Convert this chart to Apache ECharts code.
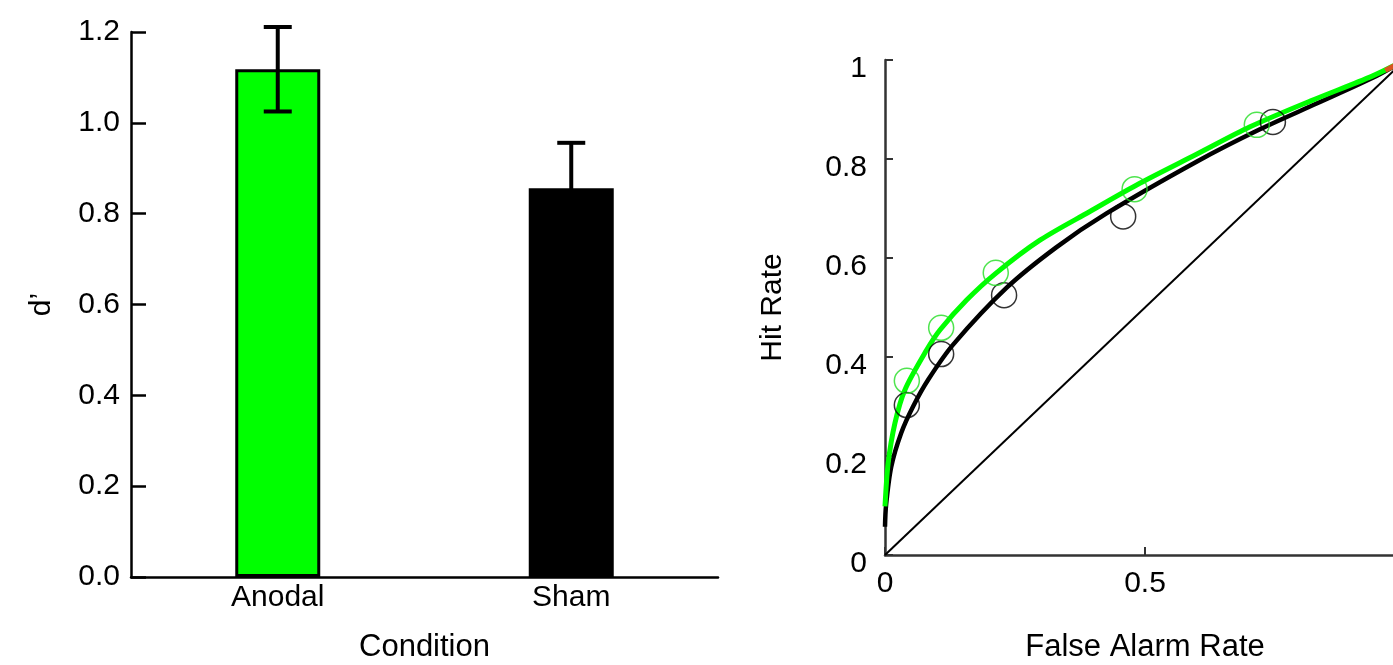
<!DOCTYPE html>
<html>
<head>
<meta charset="utf-8">
<script src="https://cdn.jsdelivr.net/npm/echarts@6/dist/echarts.min.js"></script>
<style>
html, body { margin: 0; padding: 0; background: #fff; }
#chart { width: 1393px; height: 665px; }
</style>
</head>
<body>
<div id="chart"></div>
<script>
// d' per condition
const conditions = ['Anodal', 'Sham']
const dprimeMean = [1.118, 0.856]
const dprimeErr = [0.093, 0.1]

// ROC: observed points
const anodalFA = [0.042, 0.108, 0.213, 0.480, 0.715]
const anodalHR = [0.352, 0.459, 0.570, 0.739, 0.869]
const shamFA = [0.042, 0.108, 0.229, 0.458, 0.746]
const shamHR = [0.303, 0.406, 0.525, 0.684, 0.875]

// ROC: fitted curves
const anodalFitFA = [0, 0.006, 0.019, 0.038, 0.080, 0.106, 0.157, 0.213, 0.298, 0.394, 0.490, 0.600, 0.702, 0.820, 0.938, 1]
const anodalFitHR = [0.098, 0.185, 0.266, 0.333, 0.414, 0.455, 0.515, 0.569, 0.636, 0.694, 0.751, 0.810, 0.865, 0.918, 0.968, 1]
const shamFitFA = [0, 0.002, 0.012, 0.031, 0.054, 0.083, 0.131, 0.234, 0.330, 0.426, 0.600, 0.721, 0.830, 0.938, 1]
const shamFitHR = [0.057, 0.100, 0.178, 0.246, 0.300, 0.354, 0.425, 0.540, 0.622, 0.690, 0.795, 0.860, 0.912, 0.964, 1]
const chanceFA = [0, 1]
const chanceHR = [0, 1]
const redFA = [0.962, 1]
const redHR = [0.979, 1]

const pairs = (xs, ys) => xs.map((x, i) => [x, ys[i]])
const font = 'Liberation Sans, Arial, sans-serif'

const chart = echarts.init(document.getElementById('chart'))

const option = {
  animation: false,
  backgroundColor: '#fff',
  textStyle: { fontFamily: font, color: '#000' },
  grid: [
    { left: 131, top: 32, width: 587, height: 545, outerBoundsMode: 'none' },
    { left: 885, top: 60, width: 520, height: 495, outerBoundsMode: 'none' }
  ],
  xAxis: [
    {
      gridIndex: 0,
      type: 'category',
      data: conditions,
      name: 'Condition',
      nameLocation: 'middle',
      nameGap: 55,
      nameTextStyle: { fontSize: 31, color: '#000', fontFamily: font },
      axisLine: { lineStyle: { color: '#000', width: 2.5 } },
      axisTick: { inside: true, length: 12, lineStyle: { color: '#000', width: 2.5 } },
      axisLabel: { fontSize: 30, color: '#000', margin: 6, fontFamily: font },
      splitLine: { show: false }
    },
    {
      gridIndex: 1,
      type: 'value',
      min: 0,
      max: 1,
      interval: 0.5,
      name: 'False Alarm Rate',
      nameLocation: 'middle',
      nameGap: 77,
      nameTextStyle: { fontSize: 31, color: '#000', fontFamily: font },
      axisLine: { lineStyle: { color: '#333', width: 2.5 } },
      axisTick: { inside: true, length: 8, lineStyle: { color: '#333', width: 2 } },
      axisLabel: { fontSize: 30, color: '#000', margin: 14, fontFamily: font },
      splitLine: { show: false }
    }
  ],
  yAxis: [
    {
      gridIndex: 0,
      type: 'value',
      min: 0,
      max: 1.2,
      interval: 0.2,
      name: 'd\u2019',
      nameLocation: 'middle',
      nameGap: 74,
      nameTextStyle: { fontSize: 30, color: '#000', fontFamily: font },
      axisLine: { show: true, lineStyle: { color: '#000', width: 2.5 } },
      axisTick: { show: true, inside: true, length: 15, lineStyle: { color: '#000', width: 2.5 } },
      axisLabel: { fontSize: 30, color: '#000', margin: 11, fontFamily: font, formatter: v => v.toFixed(1) },
      splitLine: { show: false }
    },
    {
      gridIndex: 1,
      type: 'value',
      min: 0,
      max: 1,
      interval: 0.2,
      name: 'Hit Rate',
      nameLocation: 'middle',
      nameGap: 97,
      nameTextStyle: { fontSize: 30, color: '#000', fontFamily: font },
      axisLine: { show: true, lineStyle: { color: '#333', width: 2.5 } },
      axisTick: { show: true, inside: true, length: 8, lineStyle: { color: '#333', width: 2 } },
      axisLabel: { fontSize: 30, color: '#000', margin: 18, verticalAlign: 'top', lineHeight: 18, fontFamily: font },
      splitLine: { show: false }
    }
  ],
  series: [
    {
      type: 'bar',
      xAxisIndex: 0,
      yAxisIndex: 0,
      barWidth: 85,
      data: dprimeMean.map((v, i) => ({
        value: v,
        itemStyle: i === 0
          ? { color: '#00ff00', borderColor: '#000', borderWidth: 3 }
          : { color: '#000', borderColor: '#000', borderWidth: 0 }
      }))
    },
    {
      type: 'custom',
      xAxisIndex: 0,
      yAxisIndex: 0,
      data: dprimeMean.map((v, i) => [i, v - dprimeErr[i], v + dprimeErr[i]]),
      renderItem(params, api) {
        const lo = api.coord([api.value(0), api.value(1)])
        const hi = api.coord([api.value(0), api.value(2)])
        const w = 14
        const style = { stroke: '#000', lineWidth: 4 }
        return {
          type: 'group',
          children: [
            { type: 'line', shape: { x1: hi[0], y1: lo[1], x2: hi[0], y2: hi[1] }, style },
            { type: 'line', shape: { x1: hi[0] - w, y1: hi[1], x2: hi[0] + w, y2: hi[1] }, style },
            { type: 'line', shape: { x1: lo[0] - w, y1: lo[1], x2: lo[0] + w, y2: lo[1] }, style }
          ]
        }
      },
      z: 5
    },
    {
      type: 'line',
      xAxisIndex: 1,
      yAxisIndex: 1,
      data: pairs(chanceFA, chanceHR),
      symbol: 'none',
      lineStyle: { color: '#000', width: 2 }
    },
    {
      type: 'line',
      xAxisIndex: 1,
      yAxisIndex: 1,
      data: pairs(shamFitFA, shamFitHR),
      symbol: 'none',
      smooth: 0.3,
      lineStyle: { color: '#000', width: 4.5 }
    },
    {
      type: 'line',
      xAxisIndex: 1,
      yAxisIndex: 1,
      data: pairs(anodalFitFA, anodalFitHR),
      symbol: 'none',
      smooth: 0.3,
      lineStyle: { color: '#00ff00', width: 5 }
    },
    {
      type: 'line',
      xAxisIndex: 1,
      yAxisIndex: 1,
      data: pairs(redFA, redHR),
      symbol: 'none',
      lineStyle: { color: '#d9541e', width: 5 }
    },
    {
      type: 'scatter',
      xAxisIndex: 1,
      yAxisIndex: 1,
      data: pairs(shamFA, shamHR),
      symbol: 'circle',
      symbolSize: 25,
      itemStyle: { color: 'rgba(0,0,0,0)', borderColor: '#000', borderWidth: 1.5 },
      z: 6
    },
    {
      type: 'scatter',
      xAxisIndex: 1,
      yAxisIndex: 1,
      data: pairs(anodalFA, anodalHR),
      symbol: 'circle',
      symbolSize: 25,
      itemStyle: { color: 'rgba(0,0,0,0)', borderColor: '#22dd22', borderWidth: 1.5 },
      z: 6
    }
  ]
}

chart.setOption(option)
</script>
</body>
</html>
